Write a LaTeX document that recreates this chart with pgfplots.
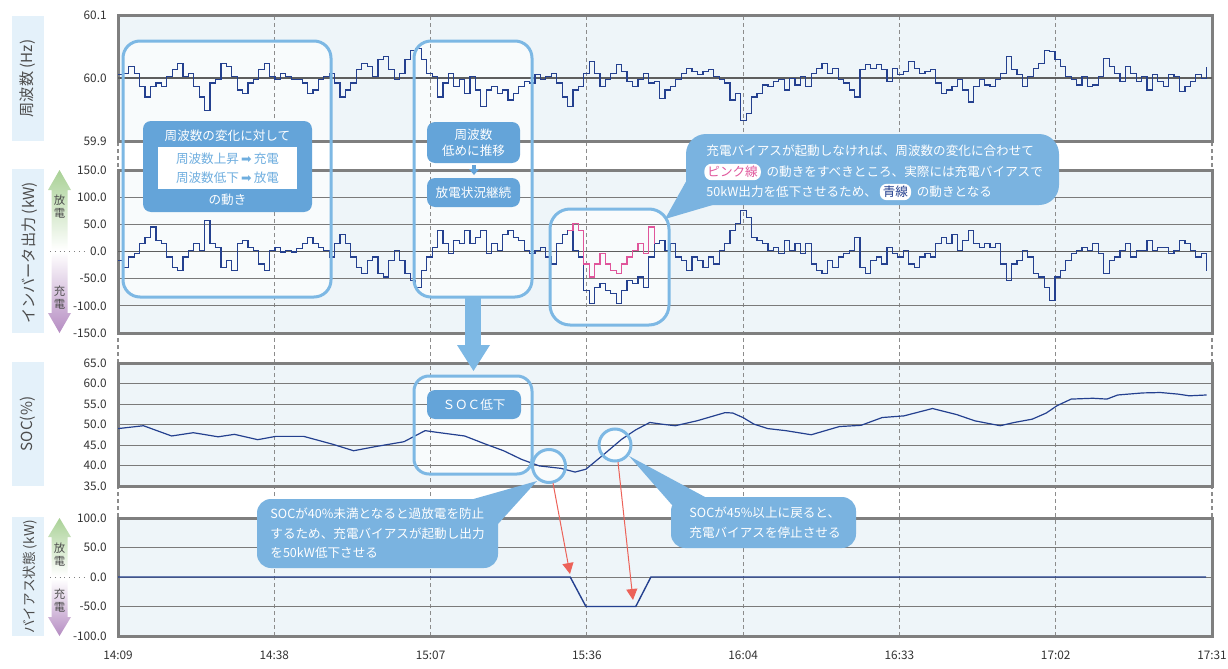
\documentclass[border=0pt]{standalone}
\usepackage{fontspec}
\setmainfont{Noto Sans CJK JP}
\newfontfamily\dejavu{DejaVu Sans}
\usepackage{pgfplots}
\pgfplotsset{compat=1.18}
\usetikzlibrary{arrows.meta}

\definecolor{panelbg}{HTML}{EEF5F9}
\definecolor{framec}{HTML}{7F7F7F}
\definecolor{gridc}{HTML}{7A7A7A}
\definecolor{zeroc}{HTML}{5E5E5E}
\definecolor{dashc}{HTML}{8C8C8C}
\definecolor{navy}{HTML}{24408F}
\definecolor{pinkc}{HTML}{E0559B}
\definecolor{boxline}{HTML}{7DB8E4}
\definecolor{boxfill}{HTML}{64A4D9}
\definecolor{callfill}{HTML}{7AB3E0}
\definecolor{lblbg}{HTML}{E4F1FA}
\definecolor{tickc}{HTML}{333333}
\definecolor{titlec}{HTML}{4D4D4D}
\definecolor{greenc}{HTML}{A9D196}
\definecolor{purplec}{HTML}{B58CC2}
\definecolor{redc}{HTML}{EC6259}
\definecolor{lighttext}{HTML}{6FAEDF}

\newcommand\fticks{\fontsize{5.9}{6.5}\selectfont}
\newcommand\fxticks{\fontsize{5.9}{6.5}\selectfont}
\newcommand\fttl{\fontsize{7.6}{9}\selectfont}
\newcommand\fttlb{\fontsize{6.8}{8}\selectfont}
\newcommand\fcall{\fontsize{6.3}{8}\selectfont}
\newcommand\fsmall{\fontsize{5.7}{6.5}\selectfont}

\pgfplotsset{
  panel/.style={
    scale only axis, width=547pt, anchor=north west,
    xmin=0, xmax=202,
    xtick={0,28.857,57.714,86.571,115.429,144.286,173.143,202},
    xticklabels={}, major tick length=0pt, tick style={draw=none},
    axis line style={draw=framec, line width=1.5pt},
    ymajorgrids, grid style={draw=gridc, line width=0.5pt},
    yticklabel style={font=\fticks, text=tickc, inner sep=0pt, xshift=-5.5pt},
    /pgf/number format/assume math mode=true,
    extra y tick labels={},
    extra y tick style={grid style={draw=zeroc, line width=0.85pt}},
  },
}
\tikzset{pill/.style={fill=white, rounded corners=3.5pt, inner xsep=1.5pt, inner ysep=1.2pt, font=\fcall, anchor=west}}

\begin{document}
\begin{tikzpicture}
% ---------- backgrounds ----------
\begin{scope}[x=0.5pt,y=-0.5pt]
\useasboundingbox (0,0) rectangle (1228,669);
\fill[panelbg] (118,15) rectangle (1212,141);
\fill[panelbg] (118,170) rectangle (1212,333);
\fill[panelbg] (118,363) rectangle (1212,486);
\fill[panelbg] (118,518) rectangle (1212,636);
% y-title boxes
\fill[lblbg] (12,16) rectangle (44,141);
\fill[lblbg] (12,169) rectangle (44,333);
\fill[lblbg] (12,362) rectangle (44,486);
\fill[lblbg] (12,517) rectangle (44,636);
\node[rotate=90, font=\fttl, text=titlec] at (28,78.5) {周波数 (Hz)};
\node[rotate=90, font=\fttl, text=titlec] at (30,253) {インバータ出力 (kW)};
\node[rotate=90, font=\fttl, text=titlec] at (28,424) {SOC(\%)};
\node[rotate=90, font=\fttlb, text=titlec] at (30,577) {バイアス状態 (kW)};
% arrows inverter
\shade[top color=greenc, bottom color=white] (59.5,170) -- (71,190) -- (67.5,190) -- (67.5,250) -- (51.5,250) -- (51.5,190) -- (48,190) -- cycle;
\shade[top color=white, bottom color=purplec] (51.5,252) -- (67.5,252) -- (67.5,313) -- (71,313) -- (59.5,333) -- (48,313) -- (51.5,313) -- cycle;
\draw[gray, dotted, line width=0.4pt] (50,251) -- (84,251);
\node[font=\fsmall, text=titlec] at (59.5,200) {放};
\node[font=\fsmall, text=titlec] at (59.5,213) {電};
\node[font=\fsmall, text=titlec] at (59.5,291) {充};
\node[font=\fsmall, text=titlec] at (59.5,304) {電};
% arrows bias
\shade[top color=greenc, bottom color=white] (59.5,518) -- (71,537) -- (67.5,537) -- (67.5,576) -- (51.5,576) -- (51.5,537) -- (48,537) -- cycle;
\shade[top color=white, bottom color=purplec] (51.5,579) -- (67.5,579) -- (67.5,617) -- (71,617) -- (59.5,636) -- (48,617) -- (51.5,617) -- cycle;
\draw[gray, dotted, line width=0.4pt] (50,577) -- (84,577);
\node[font=\fsmall, text=titlec] at (59.5,548) {放};
\node[font=\fsmall, text=titlec] at (59.5,561) {電};
\node[font=\fsmall, text=titlec] at (59.5,594) {充};
\node[font=\fsmall, text=titlec] at (59.5,607) {電};
% translucent fills of outline boxes
\fill[white, fill opacity=0.6, rounded corners=8.5pt] (123,41) rectangle (331,297);
\fill[white, fill opacity=0.6, rounded corners=8.5pt] (414,41) rectangle (532,297);
\fill[white, fill opacity=0.6, rounded corners=10pt] (550,209) rectangle (669,325);
\fill[white, fill opacity=0.6, rounded corners=7.5pt] (414,376) rectangle (532,474);
\fill[white, fill opacity=0.6] (549,466) circle[radius=8.25pt];
\fill[white, fill opacity=0.6] (615,445) circle[radius=8pt];
\end{scope}

% ---------- dashed time grid across all panels ----------
\begin{axis}[scale only axis, width=547pt, height=310.5pt, anchor=north west, at={(59pt,-7.5pt)},
  xmin=0, xmax=202, ymin=0, ymax=1,
  xtick={0,28.857,57.714,86.571,115.429,144.286,173.143,202},
  xticklabels={14:09,14:38,15:07,15:36,16:04,16:33,17:02,17:31},
  xticklabel style={font=\fxticks, text=tickc, inner sep=0pt, yshift=-7.5pt},
  ytick=\empty, major tick length=0pt, tick style={draw=none},
  axis line style={draw=none},
  xmajorgrids, grid style={draw=dashc, line width=0.6pt, dash pattern=on 2pt off 1.5pt}]
\addplot[draw=none] coordinates {(0,0.5) (202,0.5)};
\end{axis}

% ---------- frequency ----------
\begin{axis}[panel, at={(59pt,-7.5pt)}, height=63pt,
  ymin=59.9, ymax=60.1, ytick={59.9,60,60.1}, yticklabels={59.9,60.0,60.1},
  extra y ticks={60}]
\addplot[const plot, navy, line width=0.6pt] coordinates {
(0,60.005)(1,60.007)(2,60.018)(3,60.007)(4,59.986)(5,59.970)(6,59.986)(7,59.992)(8,59.986)(9,60.002)
(10,60.013)(11,60.023)(12,60.002)(13,60.007)(14,59.986)(15,59.970)(16,59.949)(17,59.992)(18,59.997)(19,60.023)
(20,60.018)(21,60.002)(22,59.981)(23,59.976)(24,59.992)(25,59.997)(26,60.013)(27,60.023)(28,60.002)(29,59.997)
(30,60.007)(31,60.002)(32,59.997)(33,59.997)(34,59.992)(35,59.976)(36,59.981)(37,59.997)(38,60.002)(39,60.007)
(40,59.992)(41,59.970)(42,59.981)(43,59.992)(44,60.013)(45,60.023)(46,60.018)(47,60.002)(48,60.029)(49,60.034)
(50,60.013)(51,59.997)(52,60.007)(53,60.029)(54,60.044)(55,60.047)(56,60.029)(57,60.007)(58,60.002)(59,59.970)
(60,59.992)(61,60.007)(62,59.986)(63,59.997)(64,59.976)(65,60.002)(66,59.981)(67,59.955)(68,59.981)(69,59.986)
(70,59.976)(71,59.981)(72,59.965)(73,59.976)(74,59.986)(75,59.994)(76,59.992)(77,60.005)(78,59.997)(79,60.002)
(80,60.007)(81,59.992)(82,59.970)(83,59.955)(84,59.981)(85,59.986)(86,60.007)(87,60.026)(88,60.007)(89,59.986)
(90,59.997)(91,60.007)(92,60.021)(93,60.010)(94,59.994)(95,59.986)(96,59.997)(97,60.007)(98,59.992)(99,59.994)
(100,59.968)(101,59.981)(102,59.986)(103,59.997)(104,60.007)(105,60.015)(106,60.010)(107,60.005)(108,60.010)(109,60.013)
(110,60.002)(111,59.997)(112,59.992)(113,59.965)(114,59.976)(115,59.933)(116,59.944)(117,59.970)(118,59.976)(119,59.989)
(120,59.986)(121,59.994)(122,59.997)(123,59.981)(124,59.999)(125,59.989)(126,60.002)(127,59.986)(128,60.007)(129,60.015)
(130,60.023)(131,60.007)(132,60.015)(133,59.997)(134,59.992)(135,59.981)(136,59.970)(137,60.013)(138,60.021)(139,60.015)
(140,60.021)(141,60.013)(142,59.994)(143,60.015)(144,60.005)(145,60.010)(146,60.026)(147,60.015)(148,60.007)(149,60.010)
(150,60.013)(151,59.992)(152,59.976)(153,59.981)(154,59.986)(155,59.997)(156,59.981)(157,59.962)(158,59.986)(159,59.997)
(160,59.989)(161,59.986)(162,59.997)(163,60.007)(164,60.034)(165,60.013)(166,60.005)(167,59.986)(168,60.002)(169,60.015)
(170,60.023)(171,60.044)(172,60.042)(173,60.029)(174,60.018)(175,60.002)(176,59.997)(177,59.989)(178,60.002)(179,59.986)
(180,59.989)(181,60.002)(182,60.031)(183,60.018)(184,60.007)(185,59.994)(186,60.018)(187,60.007)(188,59.994)(189,60.002)
(190,59.981)(191,60.005)(192,59.994)(193,59.986)(194,60.005)(195,60.002)(196,59.978)(197,59.986)(198,59.994)(199,60.005)
(200,59.999)(201,60.018)};
\end{axis}

% ---------- inverter output ----------
\begin{axis}[panel, at={(59pt,-85pt)}, height=81.5pt,
  ymin=-150, ymax=150, ytick={-150,-100,-50,0,50,100,150},
  yticklabels={-150.0,-100.0,-50.0,0.0,50.0,100.0,150.0},
  extra y ticks={0}]
\addplot[const plot, navy, line width=0.6pt] coordinates {
(0,-17)(1,-29)(2,-10)(3,-4)(4,14)(5,26)(6,45)(7,20)(8,14)(9,-10)
(10,-29)(11,-35)(12,-10)(13,2)(14,14)(15,2)(16,57)(17,14)(18,8)(19,-29)
(20,-17)(21,-35)(22,14)(23,20)(24,8)(25,2)(26,-23)(27,-35)(28,2)(29,8)
(30,-1)(31,2)(32,-1)(33,5)(34,14)(35,26)(36,14)(37,8)(38,2)(39,-10)
(40,14)(41,32)(42,14)(43,-10)(44,-29)(45,-41)(46,-17)(47,-10)(48,-41)(49,-47)
(50,-17)(51,2)(52,-17)(53,-41)(54,-53)(55,-66)(56,-35)(57,-10)(58,8)(59,39)
(60,14)(61,-4)(62,20)(63,14)(64,39)(65,14)(66,26)(67,39)(68,-4)(69,14)
(70,2)(71,32)(72,39)(73,26)(74,20)(75,2)(76,-4)(77,2)(78,8)(79,-10)
(80,-23)(81,14)(82,32)(83,39)(84,2)(85,-10)(86,-72)(87,-96)(88,-66)(89,-59)
(90,-72)(91,-78)(92,-96)(93,-72)(94,-53)(95,-59)(96,-47)(97,-66)(98,-10)(99,14)
(100,20)(101,2)(102,14)(103,-10)(104,-17)(105,-35)(106,-10)(107,-17)(108,-29)(109,-10)
(110,-23)(111,2)(112,14)(113,39)(114,51)(115,75)(116,63)(117,26)(118,20)(119,14)
(120,2)(121,8)(122,-4)(123,20)(124,2)(125,14)(126,-4)(127,14)(128,-23)(129,-35)
(130,-41)(131,-17)(132,-29)(133,-10)(134,-4)(135,2)(136,26)(137,-29)(138,-41)(139,-17)
(140,-10)(141,-23)(142,8)(143,-4)(144,-10)(145,2)(146,-23)(147,-29)(148,-10)(149,-4)
(150,-10)(151,14)(152,26)(153,14)(154,32)(155,2)(156,20)(157,39)(158,14)(159,8)
(160,14)(161,8)(162,14)(163,-23)(164,-53)(165,-23)(166,-17)(167,2)(168,-10)(169,-41)
(170,-47)(171,-66)(172,-90)(173,-47)(174,-35)(175,-17)(176,-4)(177,2)(178,8)(179,2)
(180,14)(181,-4)(182,-41)(183,-17)(184,-10)(185,2)(186,14)(187,-10)(188,2)(189,2)
(190,20)(191,2)(192,8)(193,8)(194,-4)(195,2)(196,20)(197,14)(198,2)(199,-10)
(200,-4)(201,-35)};
\addplot[const plot, pinkc, line width=0.6pt] coordinates {
(83,39)(84,51)(85,39)(86,-23)(87,-47)(88,-23)(89,-4)(90,-23)(91,-35)(92,-41)
(93,-23)(94,-10)(95,2)(96,14)(97,-4)(98,45)(99,14)};
\end{axis}

% ---------- SOC ----------
\begin{axis}[panel, at={(59pt,-181.5pt)}, height=61.5pt,
  ymin=35, ymax=65, ytick={35,40,45,50,55,60,65},
  yticklabels={35.0,40.0,45.0,50.0,55.0,60.0,65.0}]
\addplot[navy, line width=0.6pt] coordinates {
(0,49.0)(4.7,49.7)(9.9,47.2)(13.9,48.0)(18.5,47.0)(21.5,47.6)(25.8,46.3)(29.1,47.1)(34.3,47.1)(39.6,45.2)
(43.5,43.6)(47.5,44.6)(52.8,45.8)(56.7,48.5)(59.4,48.0)(64.0,47.2)(67.9,45.2)(71.2,43.6)(74.5,41.5)(77.8,39.9)
(81.8,39.3)(84.4,38.4)(86.4,39.1)(89.7,42.7)(93.0,46.4)(95.6,48.7)(98.2,50.5)(100.3,50.1)(102.9,49.7)(106.9,50.9)
(112.1,52.9)(113.5,52.8)(115.4,51.7)(117.4,50.1)(120.0,49.0)(123.3,48.5)(128.0,47.5)(133.2,49.5)(137.2,49.8)(141.1,51.7)
(145.1,52.1)(150.4,53.9)(154.9,52.4)(158.2,50.9)(162.9,49.7)(165.5,50.5)(168.8,51.3)(171.4,52.8)(173.4,54.6)(176.0,56.2)
(180.0,56.4)(182.6,56.2)(184.6,57.2)(189.2,57.7)(192.5,57.8)(195.8,57.4)(197.8,57.0)(201.0,57.2)};
\end{axis}

% ---------- bias ----------
\begin{axis}[panel, at={(59pt,-259pt)}, height=59pt,
  ymin=-100, ymax=100, ytick={-100,-50,0,50,100},
  yticklabels={-100.0,-50.0,0.0,50.0,100.0}]
\addplot[navy, line width=0.7pt] coordinates {(0,0)(83.5,0)(86.4,-50)(95.6,-50)(98.4,0)(200.9,0)};
\end{axis}

% ---------- annotations ----------
\begin{scope}[x=0.5pt,y=-0.5pt]
% outline boxes
\draw[boxline, line width=1.5pt, rounded corners=8.5pt] (123,41) rectangle (331,297);
\draw[boxline, line width=1.5pt, rounded corners=8.5pt] (414,41) rectangle (532,297);
\draw[boxline, line width=1.5pt, rounded corners=10pt] (550,209) rectangle (669,325);
\draw[boxline, line width=1.5pt, rounded corners=7.5pt] (414,376) rectangle (532,474);
% box 1 content
\fill[boxfill, rounded corners=4pt] (143,121) rectangle (312,212);
\node[white, font=\fcall] at (227.5,135.5) {周波数の変化に対して};
\fill[white] (158,147) rectangle (297,189);
\node[text=lighttext, font=\fcall] at (227.5,158.5) {周波数上昇\,{\dejavu ➡}\,充電};
\node[text=lighttext, font=\fcall] at (227.5,177.5) {周波数低下\,{\dejavu ➡}\,放電};
\node[white, font=\fcall] at (227.5,200) {の動き};
% box 2 content
\fill[boxfill, rounded corners=4pt] (427,122) rectangle (520,163);
\node[white, font=\fcall, align=center] at (473.5,142.5) {周波数\\低めに推移};
\fill[boxfill] (472,165) rectangle (476,170);
\fill[boxfill] (469,169) -- (479,169) -- (474,175) -- cycle;
\fill[boxfill, rounded corners=4pt] (427,178) rectangle (520,207);
\node[white, font=\fcall] at (473.5,192.5) {放電状況継続};
% thick arrow
\fill[boxline] (465,297) rectangle (481,346);
\fill[boxline] (457,345) -- (490,345) -- (473.5,371) -- cycle;
% SOC box content
\fill[boxfill, rounded corners=4pt] (427,390) rectangle (521,419);
\node[white, font=\fcall] at (474,404.5) {ＳＯＣ低下};
% big callout
\fill[callfill] (688,178) -- (716,204) -- (665,219) -- cycle;
\fill[callfill, rounded corners=10pt] (686,134) rectangle (1059,205);
\node[anchor=west, white, font=\fcall, inner sep=0pt] at (706,151) {充電バイアスが起動しなければ、周波数の変化に合わせて};
\node[pill, text=pinkc] (p1) at (704,172) {ピンク線};
\node[anchor=west, white, font=\fcall, inner sep=0pt] at ([xshift=2.5pt]p1.east) {の動きをすべきところ、実際には充電バイアスで};
\node[anchor=west, white, font=\fcall, inner sep=0pt] (t3) at (706,192) {50kW出力を低下させるため、};
\node[pill, text=navy] (p2) at ([xshift=1pt]t3.east) {青線};
\node[anchor=west, white, font=\fcall, inner sep=0pt] at ([xshift=2.5pt]p2.east) {の動きとなる};
% callout SOC < 40
\fill[callfill] (470,500) -- (498,524) -- (537,481) -- cycle;
\fill[callfill, rounded corners=7pt] (257,499) rectangle (498,568);
\node[anchor=west, white, font=\fcall, inner sep=0pt] at (270,514) {SOCが40\%未満となると過放電を防止};
\node[anchor=west, white, font=\fcall, inner sep=0pt] at (270,533.5) {するため、充電バイアスが起動し出力};
\node[anchor=west, white, font=\fcall, inner sep=0pt] at (270,553) {を50kW低下させる};
% callout SOC >= 45
\fill[callfill] (629,456) -- (672,505) -- (705,497) -- cycle;
\fill[callfill, rounded corners=7pt] (671,497) rectangle (856,548);
\node[anchor=west, white, font=\fcall, inner sep=0pt] at (689,513) {SOCが45\%以上に戻ると、};
\node[anchor=west, white, font=\fcall, inner sep=0pt] at (689,533) {充電バイアスを停止させる};
% circles
\draw[boxline, line width=1.5pt] (549,466) circle[radius=8.25pt];
\draw[boxline, line width=1.5pt] (615,445) circle[radius=8pt];
% red arrows
\draw[redc, line width=0.5pt, -{Triangle[length=5.5pt, width=5.5pt]}] (553,483) -- (570,574);
\draw[redc, line width=0.5pt, -{Triangle[length=5.5pt, width=5.5pt]}] (618,462) -- (633,600);
\end{scope}
\end{tikzpicture}
\end{document}
